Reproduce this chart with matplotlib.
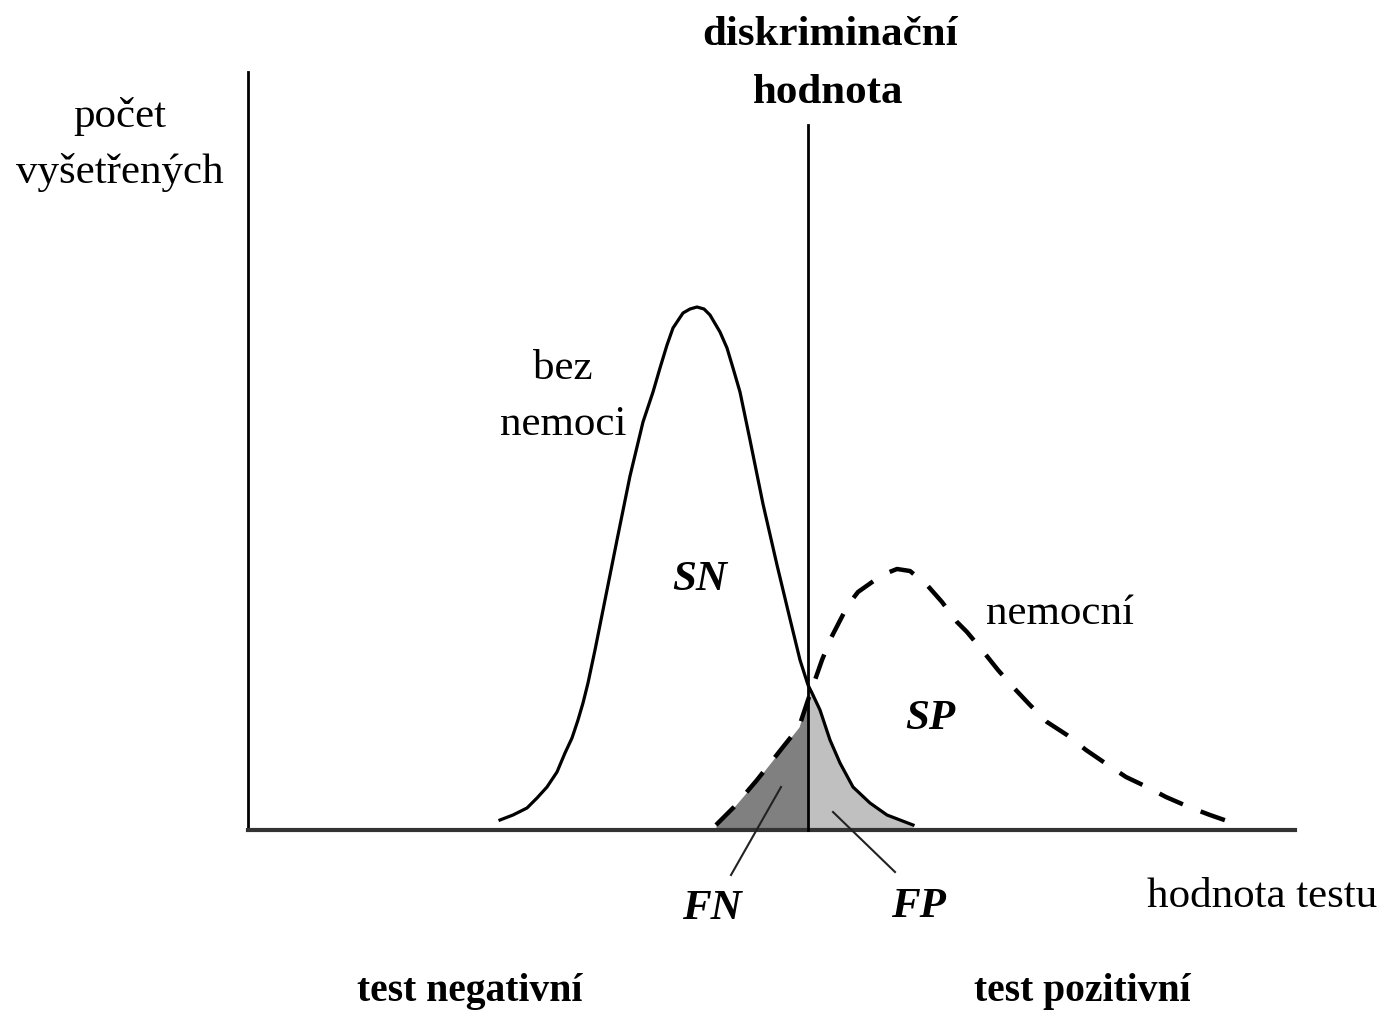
import numpy as np
import matplotlib
matplotlib.use("Agg")
import matplotlib.pyplot as plt

plt.rcParams['font.family'] = ['Liberation Serif', 'DejaVu Serif']

# units: x = hodnota testu, y = počet vyšetřených (1 unit = 10 px)
# zdraví (bez nemoci) - plná křivka
healthy_x = [25.2, 26.5, 27.9, 28.9, 29.9, 30.9, 31.7, 32.4, 33.0, 33.5, 34.0, 34.7,
             35.5, 36.2, 36.9, 38.2, 39.5, 40.5, 41.2, 41.9, 42.5, 43.5, 44.2, 44.9,
             45.6, 46.2, 47.2, 47.9, 48.5, 49.2, 50.2, 51.5, 52.9, 54.2, 55.2, 56.0,
             56.4, 57.2, 58.2, 59.2, 60.5, 62.2, 63.9, 66.5]
healthy_y = [1.0, 1.5, 2.2, 3.2, 4.3, 5.8, 7.7, 9.2, 11.0, 12.7, 14.7, 18.0,
             22.0, 25.5, 29.0, 35.4, 40.8, 43.8, 46.2, 48.5, 50.2, 51.7, 52.1, 52.3,
             52.1, 51.5, 49.8, 48.2, 46.2, 43.8, 39.0, 32.6, 26.5, 21.1, 17.0, 14.5,
             13.7, 12.0, 9.0, 6.7, 4.3, 2.7, 1.5, 0.5]

# nemocní - přerušovaná křivka
sick_x = [46.8, 48.6, 50.9, 53.5, 55.1, 56.0, 57.4, 58.3, 60.0, 61.0, 62.7, 63.9,
          64.9, 66.2, 67.9, 69.4, 70.9, 71.9, 73.4, 75.0, 76.5, 78.2, 79.9, 81.9,
          83.8, 85.7, 87.8, 89.9, 91.8, 94.1, 96.2, 98.5]
sick_y = [0.5, 2.3, 5.0, 8.3, 10.3, 13.0, 17.0, 19.2, 22.5, 23.8, 25.0, 25.7,
          26.1, 25.9, 24.5, 22.8, 20.8, 19.8, 18.0, 16.0, 14.3, 12.5, 10.8, 9.5,
          8.0, 6.7, 5.3, 4.3, 3.3, 2.3, 1.5, 0.7]

cutoff = 56.0

fig = plt.figure(figsize=(13.84, 10.15), dpi=100)
ax = fig.add_axes([0, 0, 1, 1])
ax.set_xlim(-24.8, 113.6)
ax.set_ylim(-18.5, 83.0)
ax.axis('off')

hx, hy = np.array(healthy_x), np.array(healthy_y)
sx, sy = np.array(sick_x), np.array(sick_y)

# FN a FP plochy
m = sx <= cutoff
ax.fill_between(sx[m], 0, sy[m], color='#808080', lw=0, zorder=1)
m = hx >= cutoff
ax.fill_between(hx[m], 0, hy[m], color='#c0c0c0', lw=0, zorder=1)

ax.plot(hx, hy, color='black', lw=2.3, zorder=3, solid_joinstyle='round')
ax.plot(sx, sy, color='black', lw=3.2, dashes=(5.8, 4.3), zorder=3)

# osy
ax.plot([0, 0], [0, 75.8], color='black', lw=2, zorder=4)
ax.plot([0, 104.7], [0, 0], color='#333333', lw=3, zorder=4)
ax.plot([cutoff, cutoff], [0, 70.5], color='black', lw=2, zorder=4)

# odkazové čáry
ax.plot([53.3, 48.3], [4.3, -4.5], color='#222222', lw=1.5, zorder=4)
ax.plot([58.5, 64.7], [1.8, -4.2], color='#222222', lw=1.5, zorder=4)

fs = 31
ax.text(-12.8, 71.3, 'počet', fontsize=fs, ha='center', va='center')
ax.text(-12.8, 65.8, 'vyšetřených', fontsize=fs, ha='center', va='center')
ax.text(58.2, 79.5, 'diskriminační', fontsize=fs, fontweight='bold', ha='center', va='center')
ax.text(58.0, 73.7, 'hodnota', fontsize=fs, fontweight='bold', ha='center', va='center')
ax.text(31.5, 46.1, 'bez', fontsize=fs, ha='center', va='center')
ax.text(31.5, 40.5, 'nemoci', fontsize=fs, ha='center', va='center')
ax.text(81.2, 21.6, 'nemocní', fontsize=fs, ha='center', va='center')
ax.text(101.4, -6.7, 'hodnota testu', fontsize=fs, ha='center', va='center')
for s, x, y in [('SN', 45.2, 25.0), ('SP', 68.2, 11.1), ('FN', 46.4, -7.9), ('FP', 67.0, -7.7)]:
    ax.text(x, y, s, fontsize=fs, fontweight='bold', fontstyle='italic', ha='center', va='center')
ax.text(22.2, -16.2, 'test negativní', fontsize=28.5, fontweight='bold', ha='center', va='center')
ax.text(83.4, -16.2, 'test pozitivní', fontsize=28.5, fontweight='bold', ha='center', va='center')

fig.savefig('out.png', dpi=100, facecolor='white')
